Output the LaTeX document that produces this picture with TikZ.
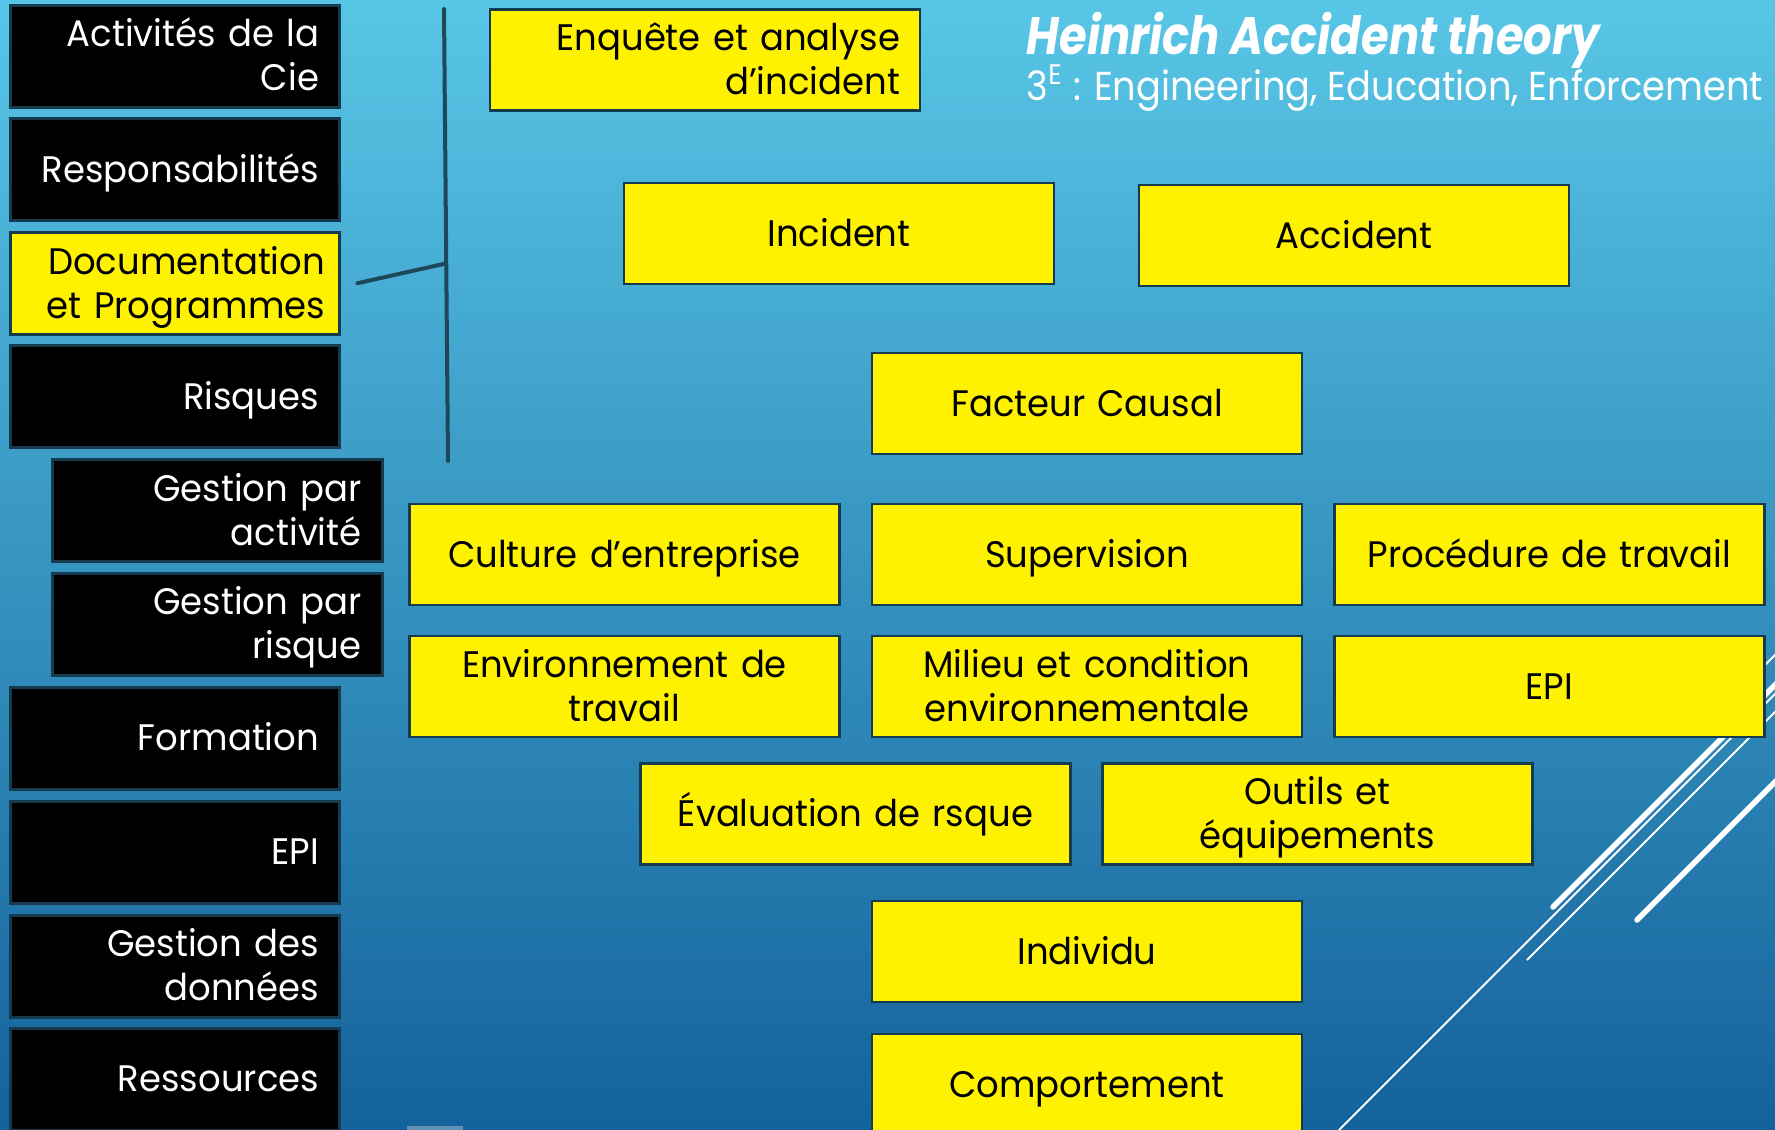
\documentclass[tikz,border=0pt]{standalone}
\usepackage{fontspec}
\setmainfont{Poppins}[FakeStretch=0.96]
\newfontfamily\headfont{Poppins}[FakeStretch=0.85]
\newfontfamily\subfont{Poppins}[FakeStretch=0.91]
\usetikzlibrary{calc,positioning}

\definecolor{bgtop}{RGB}{88,198,230}
\definecolor{bgmid}{RGB}{50,150,196}
\definecolor{bgbot}{RGB}{20,98,155}
\definecolor{boxline}{RGB}{22,58,78}
\definecolor{barline}{RGB}{30,72,90}
\definecolor{stubcol}{RGB}{96,146,184}

\newcommand{\cellfont}{\fontsize{10.5}{12.5}\selectfont}
\newcommand{\topstrut}{\vrule width 0pt height 11.1pt depth 0pt\relax}
\newcommand{\botstrut}{\vrule width 0pt height 0pt depth 3.75pt\relax}

\tikzset{
	blackbox/.style={draw=boxline,line width=0.3mm,fill=black,text=white,
		text width=28.8mm,inner xsep=2.1mm,inner ysep=0pt,minimum height=10.2mm,
		align=right,font=\cellfont,
		execute at begin node=\topstrut,execute at end node=\botstrut},
	docbox/.style={blackbox,fill=yellow,text=black,text width=30mm,inner xsep=1.5mm},
	ybox/.style={draw=boxline,line width=0.25mm,fill=yellow,text=black,
		text width=39mm,inner xsep=2mm,inner ysep=0pt,minimum height=10.1mm,
		align=center,font=\cellfont,
		execute at begin node=\topstrut,execute at end node=\botstrut},
	bar/.style={draw=barline,line width=0.4mm,line cap=round},
	thickline/.style={draw=white,line width=0.55mm,line cap=round},
	thinline/.style={draw=white,line width=0.18mm}
}

\begin{document}
\begin{tikzpicture}[x=0.1mm,y=-0.1mm]
	\useasboundingbox (0,0) rectangle (1775,1130);
	\clip (0,0) rectangle (1775,1130);
	%background
	\shade[top color=bgtop,middle color=bgmid,bottom color=bgbot] (0,0) rectangle (1775,1130);
	\fill[stubcol] (407,1126) rectangle (463,1130);
	
	%white strokes
	\draw[thickline] (1553,907) -- (1853,607);
	\draw[thinline]  (1339,1130) -- (1839,630);
	\draw[thinline]  (1527,960) -- (1827,660);
	\draw[thickline] (1637,920) -- (1937,620);
	\draw[thinline]  (1700,730) -- (1900,530);
	
	%left column
	\node[blackbox] (cie)   at (175,56)     {Activités de la\\Cie};
	\node[blackbox] (resp)  at (175,169.6)  {Responsabilités};
	\node[docbox]   (doc)   at (175,283.2)  {Documentation\\et Programmes};
	\node[blackbox] (risq)  at (175,396.8)  {Risques};
	\node[blackbox] (gact)  at (217.5,510.4){Gestion par\\activité};
	\node[blackbox] (grisq) at (217.5,624)  {Gestion par\\risque};
	\node[blackbox] (form)  at (175,738)    {Formation};
	\node[blackbox] (epil)  at (175,852)    {EPI};
	\node[blackbox] (gdon)  at (175,966)    {Gestion des\\données};
	\node[blackbox] (ress)  at (175,1079)   {Ressources};
	
	%bracket
	\coordinate (brtop) at (444,9);
	\coordinate (brbot) at (448,461);
	\coordinate (brmid) at (443.5,264);
	\draw[bar] (brtop) -- (brbot);
	\draw[bar] ([xshift=1.6mm]doc.east) -- (brmid);
	
	%yellow boxes
	\node[ybox,align=right] (enq) at (705,60) {Enquête et analyse\\d’incident};
	%
	\node[ybox] (inc)   at (839,233.5)   {Incident};
	\node[ybox] (acc)   at (1354,235.5)  {Accident};
	\node[ybox] (fact)  at (1087,403.5)  {Facteur Causal};
	%
	\node[ybox] (cult)  at (624.5,554.5) {Culture d’entreprise};
	\node[ybox] (sup)   at (1087,554.5)  {Supervision};
	\node[ybox] (proc)  at (1549.5,554.5){Procédure de travail};
	%
	\node[ybox] (env)   at (624.5,686.5) {Environnement de\\travail};
	\node[ybox] (mil)   at (1087,686.5)  {Milieu et condition\\environnementale};
	\node[ybox] (epi)   at (1549.5,686.5){EPI};
	%
	\node[ybox] (eval)  at (855.5,814)   {Évaluation de rsque};
	\node[ybox] (outil) at (1317.5,814)  {Outils et\\équipements};
	%
	\node[ybox] (indiv) at (1087,951.5)  {Individu};
	\node[ybox] (comp)  at (1087,1084.5) {Comportement};
	
	%title
	\node[anchor=base west,inner sep=0pt,text=white,font=\headfont\fontsize{15}{18}\selectfont\bfseries\itshape]
		(title) at (1026,54) {Heinrich Accident theory};
	\node[anchor=base west,inner sep=0pt,text=white,font=\subfont\fontsize{11.5}{14}\selectfont]
		(sub) at (1026,100) {3\textsuperscript{E} : Engineering, Education, Enforcement};
\end{tikzpicture}
\end{document}
